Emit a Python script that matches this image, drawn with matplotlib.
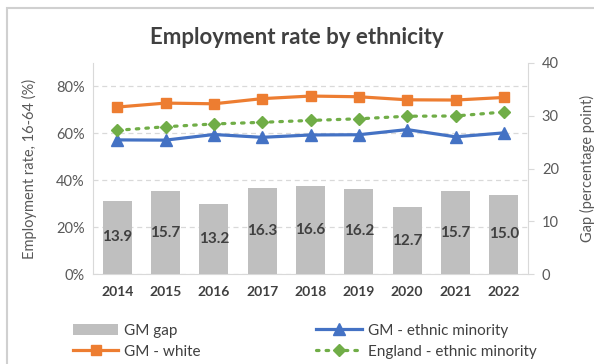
import matplotlib
matplotlib.use("Agg")
import matplotlib.pyplot as plt
from matplotlib.patches import Rectangle
from matplotlib.ticker import FuncFormatter

years = ["2014", "2015", "2016", "2017", "2018", "2019", "2020", "2021", "2022"]
gap = [13.9, 15.7, 13.2, 16.3, 16.6, 16.2, 12.7, 15.7, 15.0]
gm_white = [71.2, 72.9, 72.6, 74.8, 75.9, 75.6, 74.3, 74.2, 75.3]
gm_minority = [57.2, 57.1, 59.5, 58.3, 59.3, 59.4, 61.6, 58.5, 60.2]
england_minority = [61.3, 62.8, 64.0, 64.7, 65.5, 66.2, 67.3, 67.4, 69.1]

plt.rcParams['font.family'] = ['Lato', 'DejaVu Sans']

grey_txt = '#595959'
dark_txt = '#404040'
spine_col = '#d9d9d9'
colors = ['#bfbfbf', '#ed7d31', '#4472c4', '#70ad47']

fig = plt.figure(figsize=(5.94, 3.64), dpi=100)
ax1 = fig.add_axes([93/594, 1-274/364, 435/594, 211/364])
ax2 = ax1.twinx()

x = range(len(years))

# lines on the left axis (%)
l_white, = ax1.plot(x, gm_white, color=colors[1], lw=2.3, marker='s', ms=7.5, label='GM - white')
l_min, = ax1.plot(x, gm_minority, color=colors[2], lw=2.3, marker='^', ms=8, label='GM - ethnic minority')
l_eng, = ax1.plot(x, england_minority, color=colors[3], lw=2.3, ls=(0, (0.8, 2.2)),
                  dash_capstyle='round', marker='D', ms=6, label='England - ethnic minority')
ax1.set_ylim(0, 90)
ax1.set_xlim(-0.5, len(years)-0.5)
ax1.set_yticks([0, 20, 40, 60, 80])
ax1.yaxis.set_major_formatter(FuncFormatter(lambda v, p: "%d%%" % v))
ax1.grid(axis='y', color='#d9d9d9', ls=(0, (4, 3)), lw=0.9)
ax1.set_axisbelow(True)
ax1.set_xticks(list(x))
ax1.set_xticklabels(years, fontweight='bold', color=dark_txt, fontsize=10)
ax1.tick_params(axis='x', length=0, pad=9)
ax1.tick_params(axis='y', length=0, colors=grey_txt, labelsize=10.5, pad=6)
ax1.set_ylabel("Employment rate, 16-64 (%)", color=grey_txt, fontsize=10.5, labelpad=14)

# gap bars on the right axis
bars = ax2.bar(x, gap, width=0.6, color=colors[0], label='GM gap')
ax2.bar_label(bars, labels=["%.1f" % g for g in gap], label_type='center',
              fontweight='bold', color=dark_txt, fontsize=11)
ax2.set_ylim(0, 40)
ax2.set_yticks([0, 10, 20, 30, 40])
ax2.tick_params(axis='y', length=4, color=spine_col, colors=grey_txt, labelsize=10.5, pad=6)
ax2.tick_params(axis='y', color=spine_col)
ax2.set_ylabel("Gap (percentage point)", color=grey_txt, fontsize=10.5, labelpad=15)

for a in (ax1, ax2):
    a.spines['top'].set_visible(False)
    a.spines['left'].set_color(spine_col)
    a.spines['right'].set_color(spine_col)
    a.spines['bottom'].set_color(spine_col)
ax1.spines['right'].set_visible(False)
ax2.spines['left'].set_visible(False)
ax2.spines['bottom'].set_visible(False)

fig.text(297/594, 1-37/364, "Employment rate by ethnicity", ha='center', va='center',
         fontsize=16, fontweight='bold', color=dark_txt)

fig.legend([bars, l_white, l_min, l_eng],
           ['GM gap', 'GM - white', 'GM - ethnic minority', 'England - ethnic minority'],
           ncol=2, loc='upper left', bbox_to_anchor=(65/594, 1-316/364), frameon=False,
           fontsize=11, handlelength=3.0, handletextpad=0.35, columnspacing=7.6,
           labelspacing=0.45, labelcolor=dark_txt, borderpad=0)

fig.patches.append(Rectangle((7/594, -0.1), 1.0, 0.1+1-8/364, transform=fig.transFigure,
                             fill=False, edgecolor='#d0d0d0', lw=1.5))

fig.savefig("out.png", dpi=100)
